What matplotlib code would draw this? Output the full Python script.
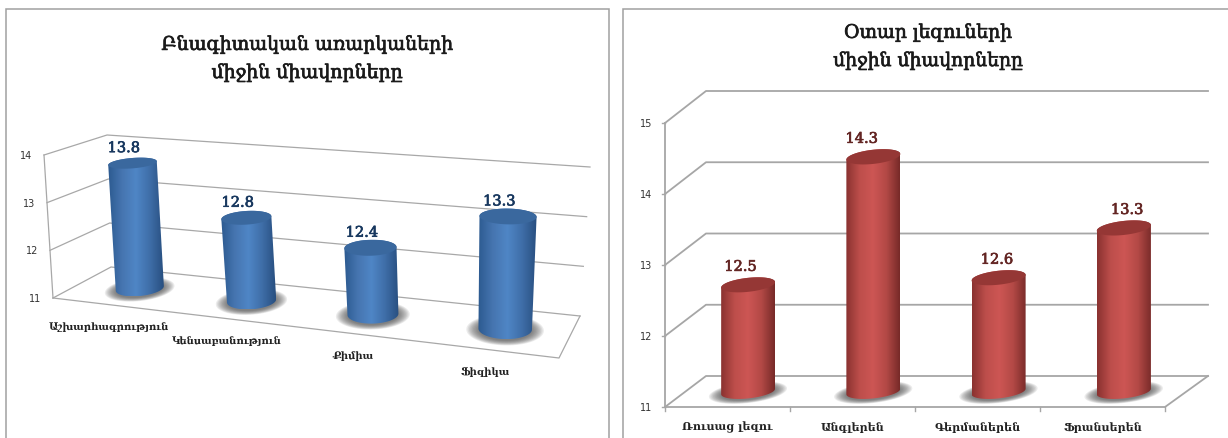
import numpy as np
from matplotlib import pyplot as plt
from matplotlib import patheffects as pe
from matplotlib.colors import LinearSegmentedColormap
from matplotlib.patches import Polygon, Rectangle

# data
left_title = 'Բնագիտական առարկաների\nմիջին միավորները'
left_categories = ['Աշխարհագրություն', 'Կենսաբանություն', 'Քիմիա', 'Ֆիզիկա']
left_values = [13.8, 12.8, 12.4, 13.3]
left_ticks = [11, 12, 13, 14]

right_title = 'Օտար լեզուների\nմիջին միավորները'
right_categories = ['Ռուսաց լեզու', 'Անգլերեն', 'Գերմաներեն', 'Ֆրանսերեն']
right_values = [12.5, 14.3, 12.6, 13.3]
right_ticks = [11, 12, 13, 14, 15]

SERIF = 'DejaVu Serif'
BLUE = ['#2c5a90', '#4675b0', '#4f86c6', '#3f6ea8', '#284f80']
RED = ['#8a3230', '#bd4e4b', '#cd5654', '#b34946', '#772a28']
HEAVY = [pe.withStroke(linewidth=0.5, foreground='#1a1a1a')]


def homography(quad):
    # unit square (x, depth) -> pixel quad: fl, fr, br, bl
    src = [(0, 0), (1, 0), (1, 1), (0, 1)]
    rows, rhs = [], []
    for (u, v), (x, y) in zip(src, quad):
        rows.append([u, v, 1, 0, 0, 0, -u * x, -v * x])
        rows.append([0, 0, 0, u, v, 1, -u * y, -v * y])
        rhs += [x, y]
    h = np.linalg.solve(np.array(rows, float), np.array(rhs, float))
    return np.append(h, 1).reshape(3, 3)


def apply_h(h, u, d):
    w = h[2, 0] * u + h[2, 1] * d + h[2, 2]
    return np.array([(h[0, 0] * u + h[0, 1] * d + h[0, 2]) / w,
                     (h[1, 0] * u + h[1, 1] * d + h[1, 2]) / w])


class Box:
    """wall and floor corners in pixels, value range from the ticks"""

    def __init__(self, floor, top, vmin, vmax):
        self.floor = homography(floor)
        self.top = homography(top)
        self.vmin, self.vmax = vmin, vmax

    def p(self, u, v, d):
        a = apply_h(self.floor, u, d)
        b = apply_h(self.top, u, d)
        t = (np.asarray(v, float) - self.vmin) / (self.vmax - self.vmin)
        return a + (b - a) * t


def hull(pts):
    pts = sorted(map(tuple, pts))

    def half(seq):
        out = []
        for q in seq:
            while len(out) > 1 and ((out[-1][0] - out[-2][0]) * (q[1] - out[-2][1])
                                    - (out[-1][1] - out[-2][1]) * (q[0] - out[-2][0])) <= 0:
                out.pop()
            out.append(q)
        return out[:-1]

    return half(pts) + half(pts[::-1])


def cylinder(ax, box, u, value, ru, rd, colors, top_color, height_scale=1.0):
    t = np.linspace(0, 2 * np.pi, 80)
    us = u + ru * np.cos(t)
    ds = 0.5 + rd * np.sin(t)
    base = np.array([box.p(a, box.vmin, b) for a, b in zip(us, ds)])
    v_top = box.vmin + (value - box.vmin) * height_scale
    cap = np.array([box.p(a, v_top, b) for a, b in zip(us, ds)])

    # soft shadow round the foot
    c = base.mean(axis=0)
    for k in np.linspace(1.45, 1.0, 10):
        ax.add_patch(Polygon(c + (base - c) * [k, k * 1.05] + [0, 1], fc='#444444', ec='none',
                             alpha=0.1, zorder=3))

    outline = np.array(hull(np.vstack([base, cap])))
    x0, x1 = outline[:, 0].min(), outline[:, 0].max()
    y0, y1 = outline[:, 1].min(), outline[:, 1].max()
    cmap = LinearSegmentedColormap.from_list('cyl', colors)
    im = ax.imshow(np.linspace(0, 1, 128)[None, :], cmap=cmap, extent=[x0, x1, y1, y0],
                   aspect='auto', zorder=4)
    im.set_clip_path(Polygon(outline, transform=ax.transData))
    ax.add_patch(Polygon(cap, fc=top_color, ec='none', zorder=5))
    return cap.mean(axis=0)


def draw_grid(ax, box, ticks, color, lw):
    for v in ticks:
        pts = np.array([box.p(0, v, 0), box.p(0, v, 1), box.p(1, v, 1)])
        ax.plot(pts[:, 0], pts[:, 1], color=color, lw=lw, zorder=2)
    pts = np.array([box.p(1, ticks[0], 1), box.p(1, ticks[0], 0), box.p(0, ticks[0], 0)])
    ax.plot(pts[:, 0], pts[:, 1], color=color, lw=lw, zorder=2)
    pts = np.array([box.p(0, ticks[0], 0), box.p(0, ticks[-1], 0)])
    ax.plot(pts[:, 0], pts[:, 1], color=color, lw=lw, zorder=2)


fig = plt.figure(figsize=(12.28, 4.39), dpi=100)
ax = fig.add_axes([0, 0, 1, 1])
ax.set_xlim(0, 1228)
ax.set_ylim(439, 0)
ax.axis('off')

# panel frames run off the bottom and right of the crop
ax.add_patch(Rectangle((5.5, 9.5), 603, 440, fc='white', ec='#a0a0a0', lw=1.1, zorder=1))
ax.add_patch(Rectangle((622.5, 9.5), 620, 440, fc='white', ec='#a0a0a0', lw=1.1, zorder=1))

# left panel, perspective
box_l = Box([(53, 299), (559, 359), (580, 317), (111, 268)],
            [(44, 156), (570, 198), (590, 168), (107, 136)],
            left_ticks[0], left_ticks[-1])
draw_grid(ax, box_l, left_ticks, '#a8a8a8', 0.9)
for v in left_ticks:
    x, y = box_l.p(0, v, 0)
    ax.text(x - 18, y, str(v), fontsize=7, color='#333333', ha='center', va='center', zorder=6)
left_name_dx = [2, 4, 5, 0]
for i, (name, val) in enumerate(zip(left_categories, left_values)):
    u = (i + 0.5) / len(left_values)
    top = cylinder(ax, box_l, u + 0.01, val, 0.047, 0.24, BLUE, '#3a689e', height_scale=0.96)
    ax.text(top[0] - 9, top[1] - 15, f'{val}', fontsize=10.5, family=SERIF, color='#17375e',
            ha='center', va='center', zorder=6,
            path_effects=[pe.withStroke(linewidth=0.5, foreground='#17375e')])
    fx, fy = box_l.p(u, left_ticks[0], 0)
    ax.text(fx + left_name_dx[i], fy + 22, name, fontsize=7.2, family=SERIF, weight='bold',
            color='#222222', ha='center', va='center', zorder=6)
ax.text(307, 59.5, left_title, fontsize=13.6, family=SERIF, color='#1a1a1a', ha='center',
        va='center', linespacing=1.62, zorder=6, path_effects=HEAVY)

# right panel, oblique
box_r = Box([(665, 408), (1165, 408), (1208, 377), (706, 377)],
            [(665, 124), (1165, 124), (1208, 92), (706, 92)],
            right_ticks[0], right_ticks[-1])
draw_grid(ax, box_r, right_ticks, '#a6a6a6', 1.3)
for v in right_ticks:
    x, y = box_r.p(0, v, 0)
    ax.plot([x - 3, x], [y, y], color='#a6a6a6', lw=1, zorder=2)
    ax.text(x - 19, y, str(v), fontsize=7, color='#333333', ha='center', va='center', zorder=6)
n = len(right_values)
for i in range(n + 1):
    x, y = box_r.p(i / n, right_ticks[0], 0)
    ax.plot([x, x], [y, y + 4], color='#a6a6a6', lw=1, zorder=2)
label_dx = [-8, -12, -2, 3]
for i, (name, val) in enumerate(zip(right_categories, right_values)):
    u = (i + 0.5) / n
    top = cylinder(ax, box_r, u, val, 0.05, 0.24, RED, '#953735')
    ax.text(top[0] + label_dx[i], top[1] - 18, f'{val}', fontsize=10.5, family=SERIF,
            color='#632523', ha='center', va='center', zorder=6,
            path_effects=[pe.withStroke(linewidth=0.5, foreground='#632523')])
    fx, fy = box_r.p(u, right_ticks[0], 0)
    ax.text(fx, fy + 19.5, name, fontsize=8, family=SERIF, weight='bold', color='#222222',
            ha='center', va='center', zorder=6)
ax.text(928, 47.5, right_title, fontsize=13.5, family=SERIF, color='#1a1a1a', ha='center',
        va='center', linespacing=1.62, zorder=6, path_effects=HEAVY)

ax.set_xlim(0, 1228)
ax.set_ylim(439, 0)
fig.savefig('out.png', dpi=100)
